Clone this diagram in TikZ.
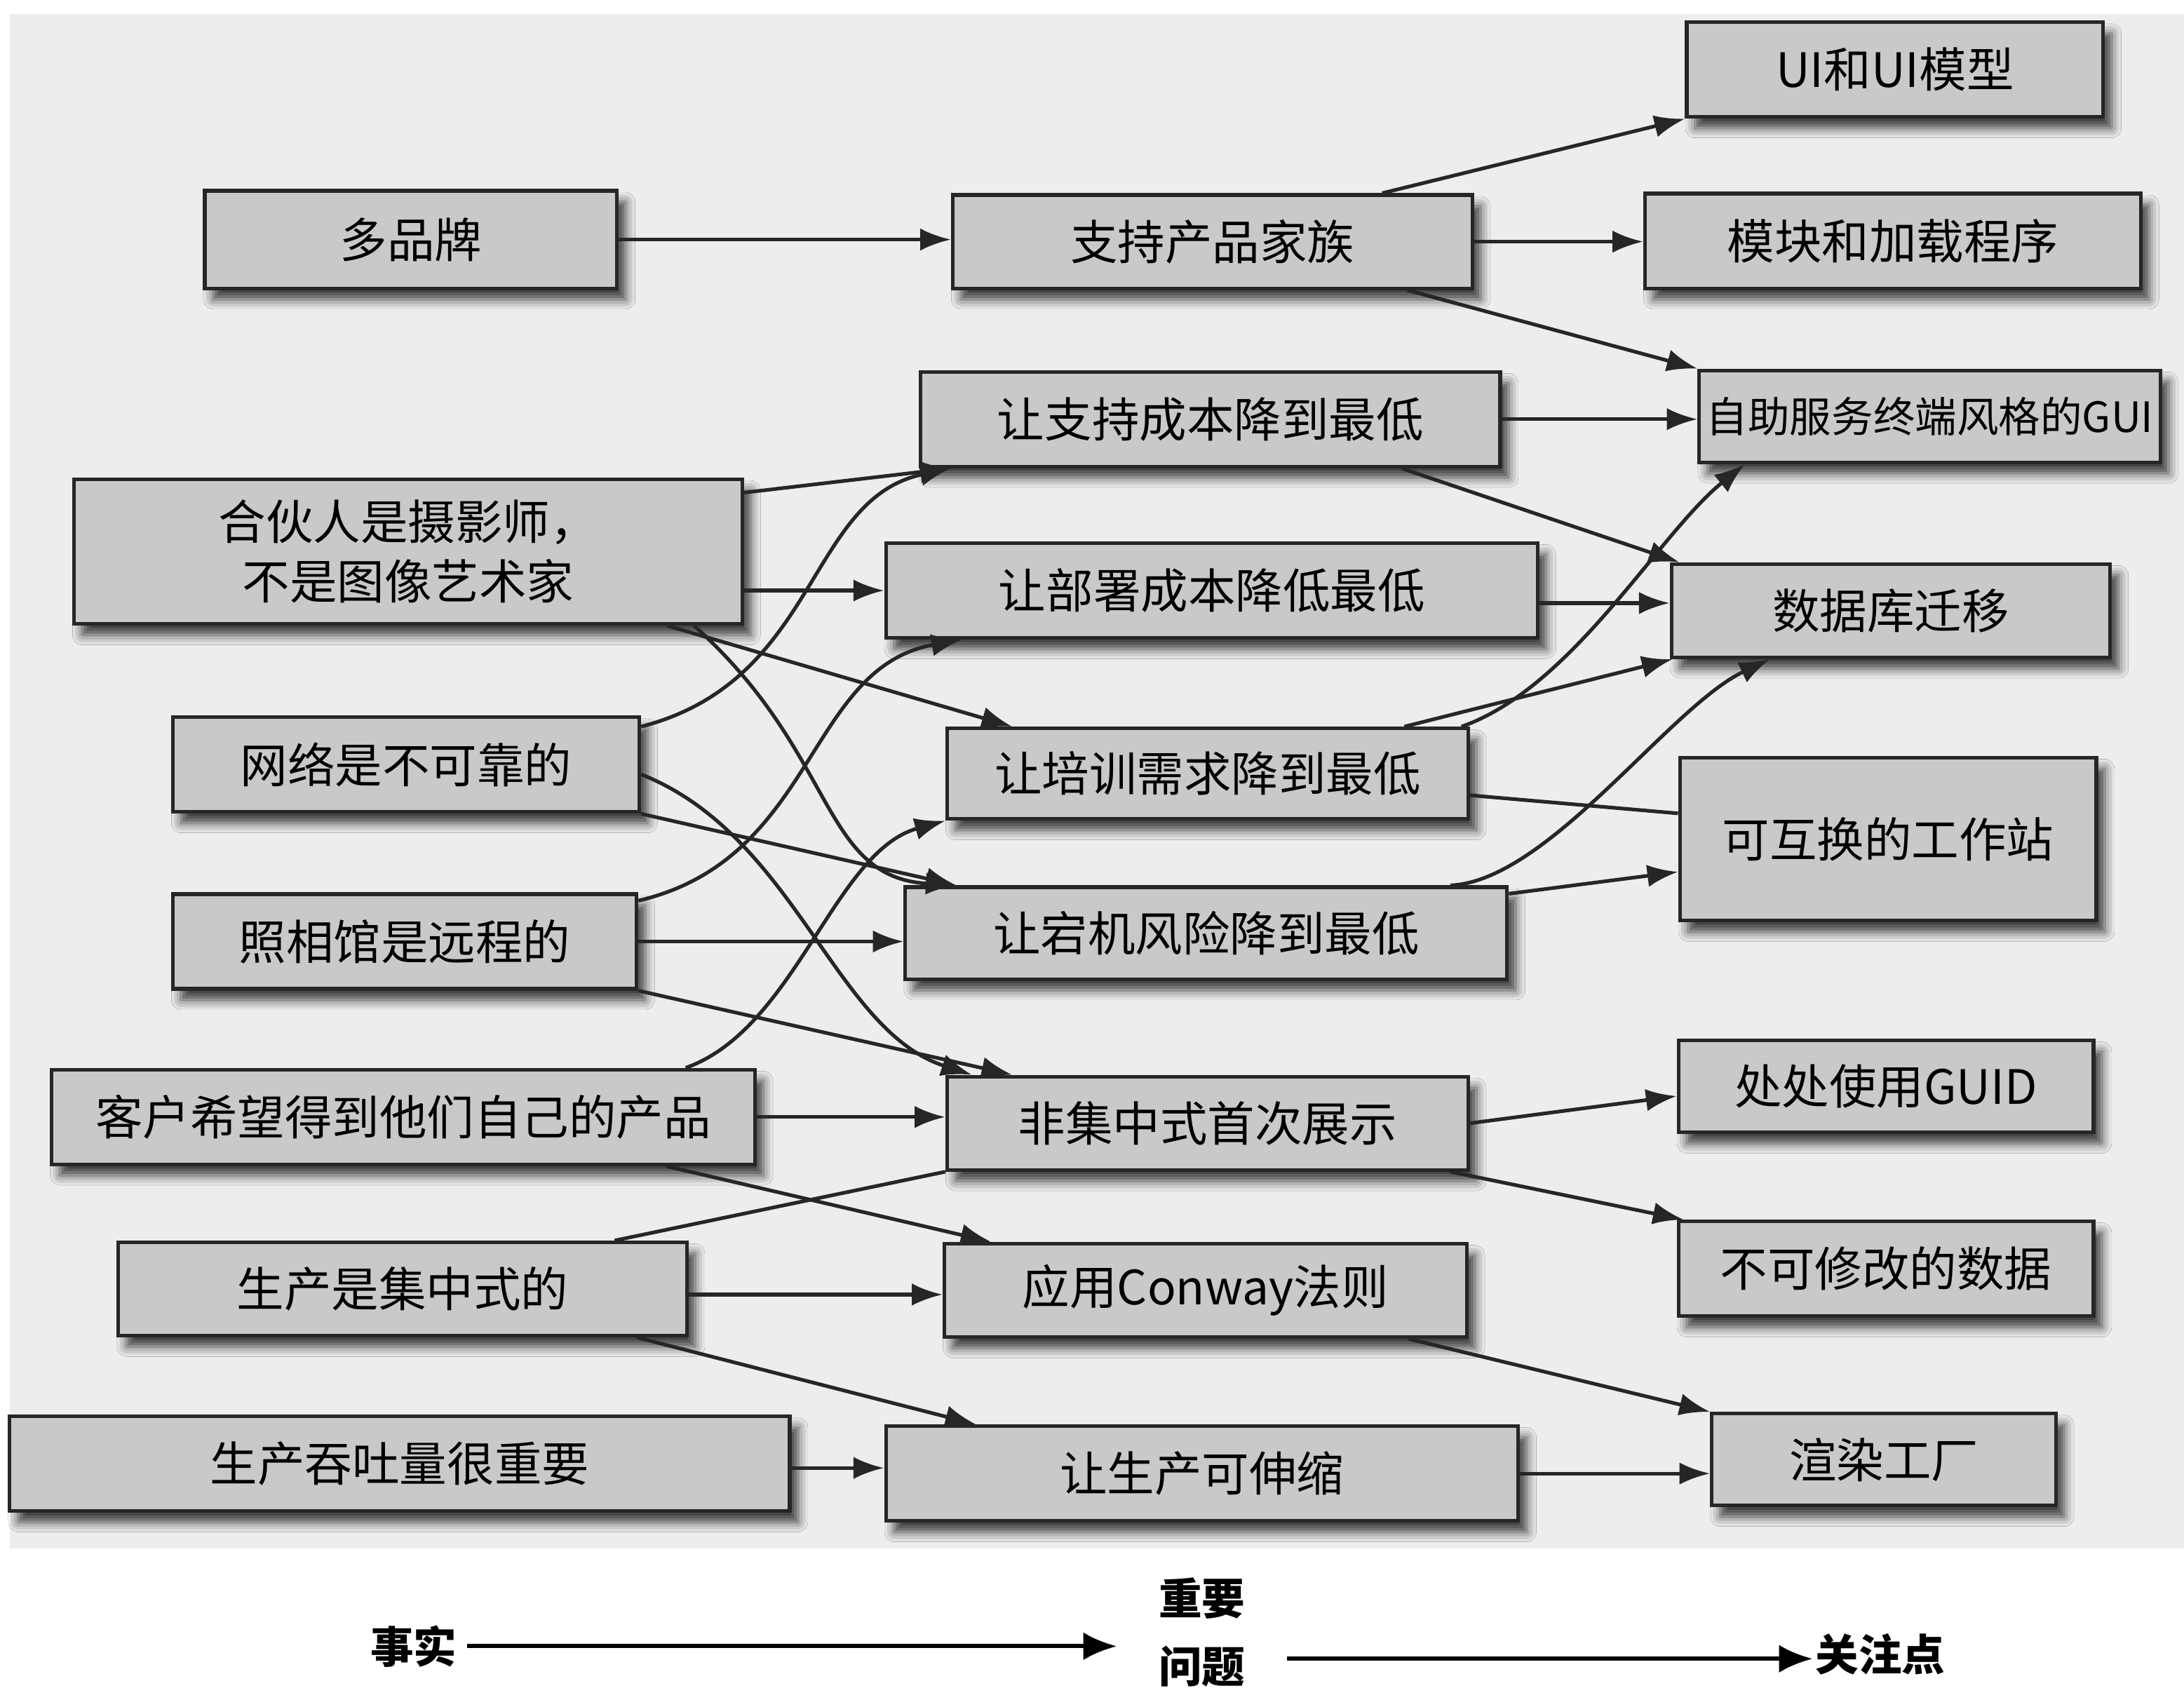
\documentclass[tikz,border=0pt]{standalone}
\usepackage{fontspec}
\setmainfont{Noto Sans CJK SC}
\usetikzlibrary{arrows.meta,shadows.blur}
\begin{document}
\begin{tikzpicture}[x=1pt,y=-1pt,
  box/.style={draw=black!85, line width=2.6pt, fill=black!21, inner sep=0pt,
    font=\fontsize{34}{43}\selectfont,
    blur shadow={shadow xshift=6pt, shadow yshift=-8pt, shadow blur radius=7pt, shadow opacity=75}},
  conn/.style={line width=2.6pt, draw=black!85, -{Latex[length=22pt,width=16pt]}},
  plainconn/.style={line width=2.6pt, draw=black!85},
  legend/.style={inner sep=0pt, font=\fontsize{31}{49}\selectfont\bfseries},
  legarrow/.style={line width=3pt, draw=black, -{Latex[length=24pt,width=20pt]}}
]
\useasboundingbox (0,0) rectangle (1568,1212);
\fill[white] (0,0) rectangle (1568,1212);
\fill[black!7] (7,10) rectangle (1568,1112);

% facts
\node[box, minimum width=296pt, minimum height=70pt] (n1) at (295,172) {多品牌};
\node[box, minimum width=480pt, minimum height=104pt, align=center] (n2) at (293,396) {合伙人是摄影师，\\不是图像艺术家};
\node[box, minimum width=335pt, minimum height=68pt] (n3) at (291.5,549) {网络是不可靠的};
\node[box, minimum width=333pt, minimum height=68pt] (n4) at (290.5,676) {照相馆是远程的};
\node[box, minimum width=505pt, minimum height=68pt] (n5) at (289.5,802) {客户希望得到他们自己的产品};
\node[box, minimum width=408pt, minimum height=67pt] (n6) at (289,925.5) {生产是集中式的};
\node[box, minimum width=560pt, minimum height=68pt] (n7) at (287,1051) {生产吞吐量很重要};

% important issues
\node[box, minimum width=373pt, minimum height=67pt] (mA) at (870.5,173.5) {支持产品家族};
\node[box, minimum width=416pt, minimum height=68pt] (mB) at (869,301) {让支持成本降到最低};
\node[box, minimum width=468pt, minimum height=68pt] (mC) at (870,424) {让部署成本降低最低};
\node[box, minimum width=374pt, minimum height=65pt] (mD) at (867,555.5) {让培训需求降到最低};
\node[box, minimum width=432pt, minimum height=66pt] (mE) at (866,670) {让宕机风险降到最低};
\node[box, minimum width=374pt, minimum height=67pt] (mF) at (867,806.5) {非集中式首次展示};
\node[box, minimum width=375pt, minimum height=67pt] (mG) at (865.5,926.5) {应用Conway法则};
\node[box, minimum width=454pt, minimum height=68pt] (mH) at (863,1058) {让生产可伸缩};

% concerns
\node[box, minimum width=299pt, minimum height=68pt] (ra) at (1360.5,50) {UI和UI模型};
\node[box, minimum width=356pt, minimum height=68pt] (rb) at (1359,173) {模块和加载程序};
\node[box, minimum width=331pt, minimum height=66pt, font=\fontsize{30}{36}\selectfont] (rc) at (1385.5,299) {自助服务终端风格的GUI};
\node[box, minimum width=315pt, minimum height=67pt] (rd) at (1357.5,438.5) {数据库迁移};
\node[box, minimum width=299pt, minimum height=117pt] (re) at (1355.5,602.5) {可互换的工作站};
\node[box, minimum width=298pt, minimum height=66pt] (rf) at (1354,780) {处处使用GUID};
\node[box, minimum width=298pt, minimum height=68pt] (rg) at (1354,911) {不可修改的数据};
\node[box, minimum width=247pt, minimum height=66pt] (rh) at (1352.5,1048) {渲染工厂};

% facts -> issues
\draw[conn] (n1.east) -- (n1.east -| mA.west);
\draw[conn] ([yshift=-11pt]n2.north east) -- ([xshift=23pt]mB.south west);
\draw[conn] (n2.east |- mC.west) -- (mC.west);
\draw[conn] ([xshift=-55pt]n2.south east) -- ([xshift=48pt]mD.north west);
\draw[conn] ([xshift=-36pt]n2.south east) .. controls +(103,92) and +(-98,-6) .. ([xshift=38pt]mE.north west);
\draw[conn] ([yshift=-8pt]n3.north east) .. controls +(128,-33) and +(-104,22) .. ([xshift=23pt]mB.south west);
\draw[conn] ([yshift=-7pt]n3.east) .. controls +(111,44) and +(-99,-32) .. ([xshift=19pt]mF.north west);
\draw[conn] (n3.south east) -- ([xshift=38pt]mE.north west);
\draw[conn] ([yshift=-6pt]n4.north east) .. controls +(128,-30) and +(-112,20) .. ([xshift=56pt]mC.south west);
\draw[conn] (n4.east) -- (n4.east -| mE.west);
\draw[conn] (n4.south east) -- ([xshift=48pt]mF.north west);
\draw[conn] ([xshift=-51pt]n5.north east) .. controls +(79,-28) and +(-80,22) .. (mD.south west);
\draw[conn] (n5.east) -- (n5.east -| mF.west);
\draw[conn] ([xshift=-65pt]n5.south east) -- ([xshift=35pt]mG.north west);
\draw[plainconn] ([xshift=-53pt]n6.north east) -- (mF.south west);
\draw[conn] ([yshift=-4pt]n6.east) -- ([yshift=-4pt]n6.east -| mG.west);
\draw[conn] ([xshift=-37pt]n6.south east) -- ([xshift=66pt]mH.north west);
\draw[conn] ([yshift=-3pt]n7.east) -- ([yshift=-3pt]n7.east -| mH.west);

% issues -> concerns
\draw[conn] ([xshift=-66pt]mA.north east) -- (ra.south west);
\draw[conn] (mA.east) -- (mA.east -| rb.west);
\draw[conn] ([xshift=-48pt]mA.south east) -- (rc.north west);
\draw[conn] (mB.east) -- (mB.east -| rc.west);
\draw[conn] ([xshift=-72pt]mB.south east) -- ([xshift=7pt]rd.north west);
\draw[conn] ([yshift=-9pt]mC.east) -- ([yshift=-9pt]mC.east -| rd.west);
\draw[conn] ([xshift=-6pt]mD.north east) .. controls +(80,-28) and +(-62,50) .. ([xshift=34pt]rc.south west);
\draw[conn] ([xshift=-47pt]mD.north east) -- ([xshift=2pt]rd.south west);
\draw[plainconn] ([yshift=-15.5pt]mD.east) -- ([yshift=18.5pt]re.west);
\draw[conn] ([xshift=-42pt]mE.north east) .. controls +(70,-3) and +(-72,34) .. ([xshift=72pt]rd.south west);
\draw[conn] ([yshift=-6pt]mE.north east) -- ([yshift=-23.5pt]re.west);
\draw[conn] (mF.east) -- ([yshift=-7pt]rf.west);
\draw[conn] ([xshift=-14pt]mF.south east) -- ([xshift=5pt]rg.north west);
\draw[conn] ([xshift=-43pt]mG.south east) -- (rh.north west);
\draw[conn] (mH.east) -- (mH.east -| rh.west);

% legend
\node[legend] (fact) at (297,1182) {事实};
\node[legend, align=center] (issue) at (863,1172) {重要\\问题};
\node[legend, inner sep=2pt] (concern) at (1350,1188) {关注点};
\draw[legarrow, shorten <=7pt, shorten >=30pt] (fact.east) -- (fact.east -| issue.west);
\draw[legarrow, shorten <=30pt] ([yshift=-3pt]issue.east |- concern.west) -- ([yshift=-3pt]concern.west);
\end{tikzpicture}
\end{document}
